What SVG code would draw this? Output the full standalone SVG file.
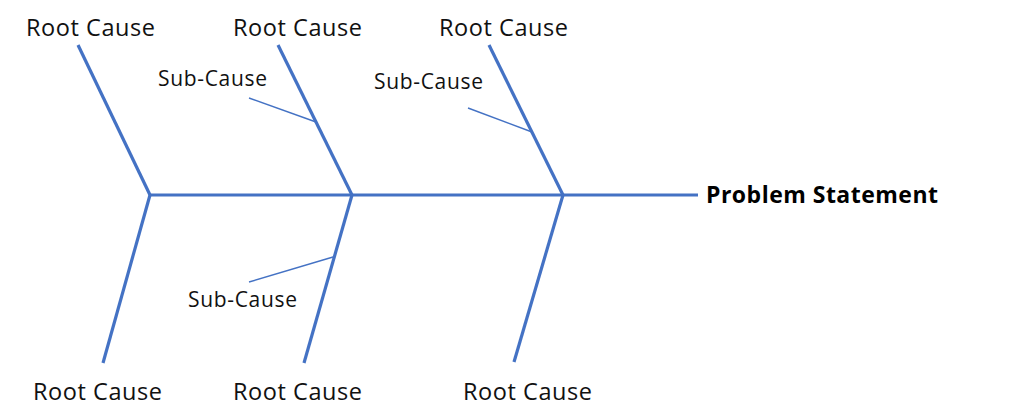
<svg xmlns="http://www.w3.org/2000/svg" width="1024" height="420" viewBox="0 0 1024 420">
<style>
.bone{stroke:#4472C4;stroke-width:3.2;fill:none;stroke-linecap:butt}
.sub{stroke:#4472C4;stroke-width:1.4;fill:none}
.lbl{font-family:"Open Sans","Liberation Sans",sans-serif;font-size:23.5px;fill:#111}
.slbl{font-family:"Open Sans","Liberation Sans",sans-serif;font-size:21px;fill:#111}
.ps{font-family:"Open Sans","Liberation Sans",sans-serif;font-size:23px;font-weight:bold;fill:#000}
</style>
<rect width="1024" height="420" fill="#fff"/>
<g id="connectors">
<line class="bone" x1="150" y1="195" x2="698" y2="195"/>
<line class="bone" x1="78" y1="45" x2="150" y2="195"/>
<line class="bone" x1="278" y1="45" x2="352" y2="195"/>
<line class="bone" x1="489" y1="45" x2="563" y2="195"/>
<line class="bone" x1="150" y1="195" x2="103" y2="363"/>
<line class="bone" x1="352" y1="195" x2="304" y2="363"/>
<line class="bone" x1="563" y1="195" x2="514" y2="362"/>
<line class="sub" x1="249" y1="98" x2="316" y2="122"/>
<line class="sub" x1="468" y1="108" x2="532" y2="132"/>
<line class="sub" x1="249" y1="282" x2="333" y2="257"/>
</g>
<g id="problem"><text class="ps" x="706" y="203" textLength="232">Problem Statement</text></g>
<g id="root-top-1"><text class="lbl" x="26" y="36" textLength="129">Root Cause</text></g>
<g id="root-top-2"><text class="lbl" x="233" y="36" textLength="129">Root Cause</text></g>
<g id="root-top-3"><text class="lbl" x="439" y="36" textLength="129">Root Cause</text></g>
<g id="root-bot-1"><text class="lbl" x="33" y="400" textLength="129">Root Cause</text></g>
<g id="root-bot-2"><text class="lbl" x="233" y="400" textLength="129">Root Cause</text></g>
<g id="root-bot-3"><text class="lbl" x="463" y="400" textLength="129">Root Cause</text></g>
<g id="sub-1"><text class="slbl" x="158" y="86" textLength="109">Sub-Cause</text></g>
<g id="sub-2"><text class="slbl" x="374" y="89" textLength="109">Sub-Cause</text></g>
<g id="sub-3"><text class="slbl" x="188" y="307" textLength="109">Sub-Cause</text></g>
</svg>
